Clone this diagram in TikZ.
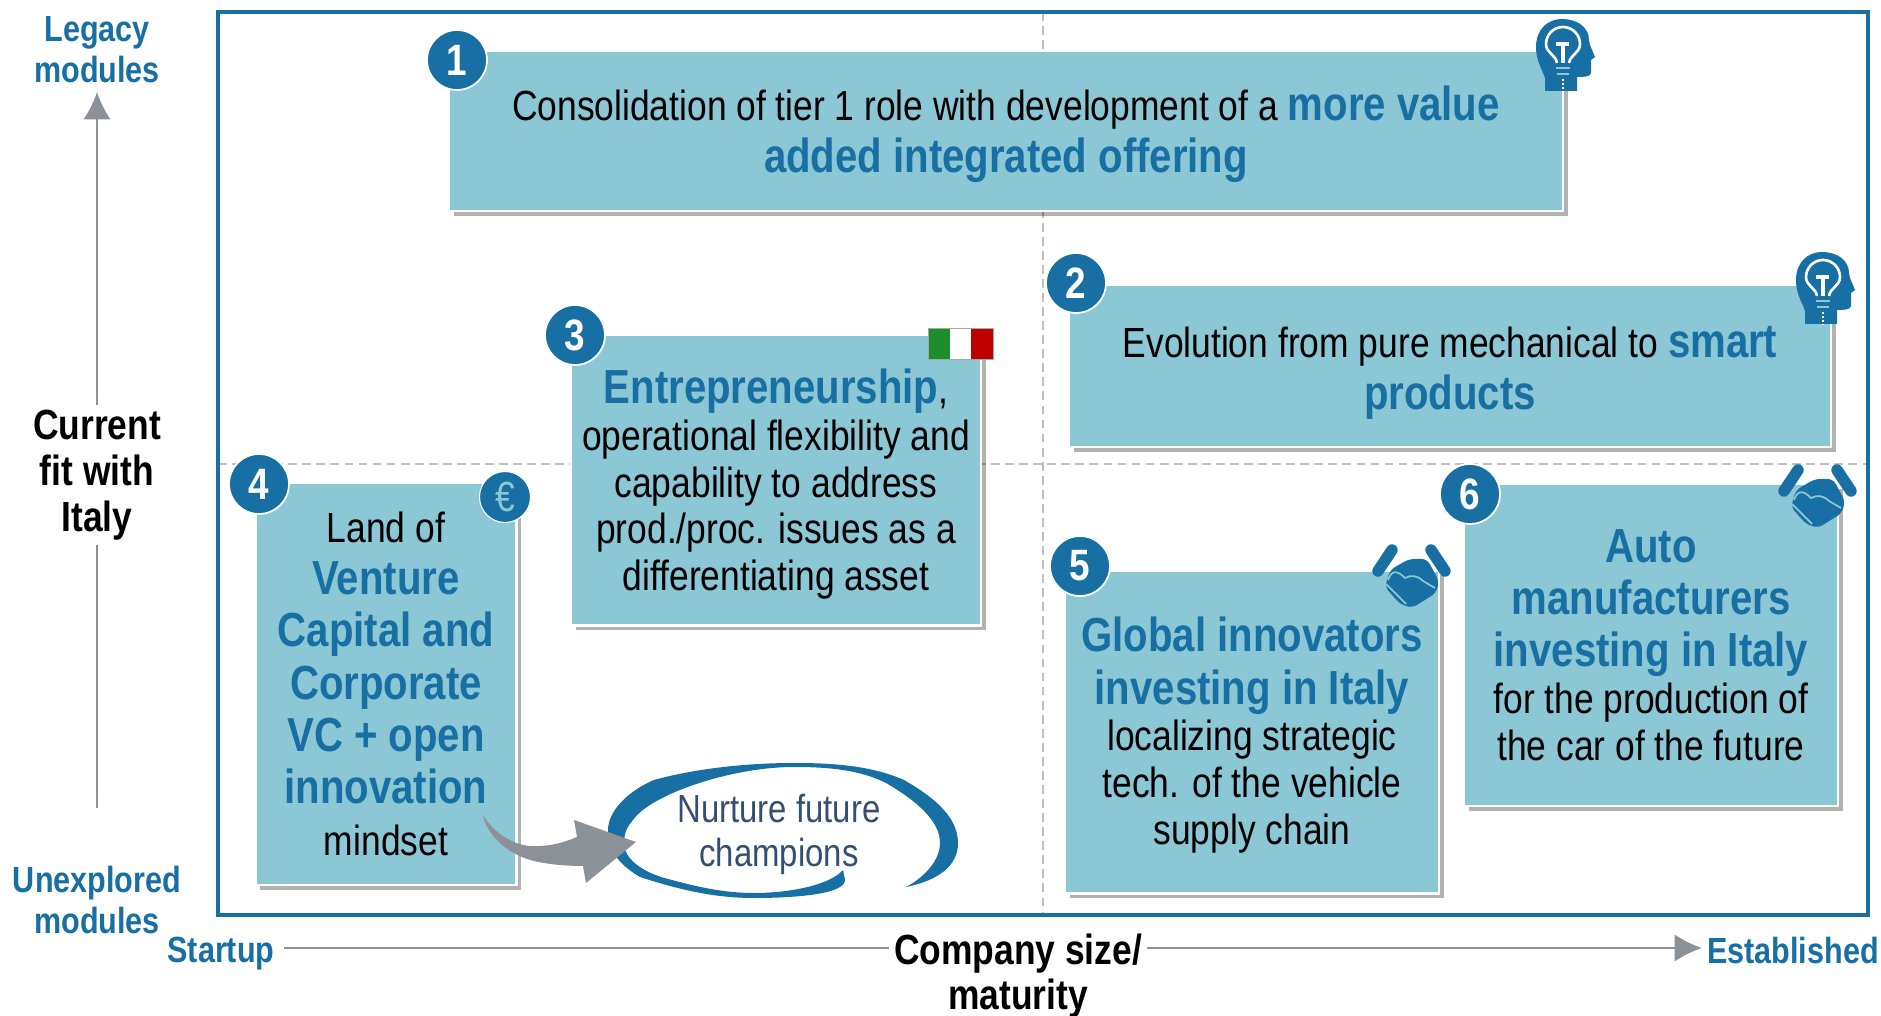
\documentclass[tikz,border=0pt]{standalone}
\usepackage{fontspec}
\setmainfont{Liberation Sans}[FakeStretch = 0.84]
\usetikzlibrary{arrows.meta, shadows}

\definecolor{teal}{HTML}{8CC7D5}
\definecolor{deepblue}{HTML}{176FA3}
\definecolor{arrowgray}{HTML}{8C9198}
\definecolor{slateblue}{HTML}{354F72}

\newcommand{\hl}[1]{{\bfseries\color{deepblue}\fontsize{27.2}{26.7}\selectfont #1}}
\newcommand{\pad}[1]{\rule{0pt}{#1pt}}

\tikzset{
	box/.style = {fill = teal, draw = white, line width = 1.2pt, inner sep = 0pt, align = center, font = \fontsize{24}{26.7}\selectfont, drop shadow = {shadow xshift = 2.8pt, shadow yshift = -2.8pt, fill = black, opacity = 0.3}},
	numdot/.style = {circle, fill = deepblue, draw = white, line width = 1pt, inner sep = 0pt, minimum size = 1.2cm, text = white, font = \fontsize{25}{26}\selectfont\bfseries},
	axislabel/.style = {align = center, text = deepblue, font = \fontsize{20.7}{23.5}\selectfont\bfseries},
	axistitle/.style = {align = center, fill = white, inner sep = 3pt, font = \fontsize{24}{26}\selectfont\bfseries},
	axisline/.style = {->, draw = arrowgray, line width = 1.2pt},
	midline/.style = {gray!50, line width = 1pt, dash pattern = on 5pt off 3pt},
	headicon/.pic = {
		\fill [deepblue] (-17, 36) -- (-17, 23) .. controls (-20, 14) and (-26, 6) .. (-26, -8) .. controls (-26, -26) and (-14, -36) .. (0, -36) .. controls (16, -36) and (27, -27) .. (27, -15) -- (28, -10) -- (33, 2) -- (29, 5) -- (29, 18) .. controls (29, 22) and (20, 22) .. (15, 22) -- (15, 36) -- cycle;
		\draw [white, line width = 1.5pt] (-5, 8) .. controls (-6, 0) and (-16, -2) .. (-16, -11) arc [start angle = 180, end angle = 360, radius = 17] .. controls (18, -2) and (8, 0) .. (7, 8);
		\draw [white, line width = 1.8pt] (-6, -11) -- (7, -11) (1, -11) -- (1, 8);
		\draw [teal, line width = 1.4pt] (-6, 13) -- (8, 13) (-5, 19) -- (7, 19);
		\draw [white, line width = 1.2pt, densely dotted] (1, 24) -- (1, 36);
	},
	shakeicon/.pic = {
		\draw [deepblue, line width = 6.5pt, line cap = round] (-33, -12) -- (-19, -33) (20, -33) -- (34, -12);
		\fill [deepblue, rounded corners = 3pt] (-21, -13) -- (-2, -24) -- (16, -24) -- (28, -2) -- (25, 10) -- (1, 25) -- (-11, 21) -- (-26, 4) -- cycle;
		\draw [teal, line width = 1pt] (-23, -3) .. controls (-19, -15) and (-12, -11) .. (-6, -5) .. controls (0, -8) and (6, -8) .. (12, -2) -- (24, 5);
		\draw [teal, line width = 1pt] (-25, 1) -- (-5, 21);
	}
}

\begin{document}

\begin{tikzpicture}[x = 0.02cm, y = -0.02cm, > = {Latex[length = 0.55cm, width = 0.55cm]}]

	\useasboundingbox (0, 0) rectangle (1881, 1016);
	
	% Frame and quadrants
	
	\coordinate (midtop) at (1043, 12);
	\coordinate (midbottom) at (1043, 915);
	\coordinate (midleft) at (218, 464);
	\coordinate (midright) at (1868, 464);
	
	\draw [midline] (midtop) -- (midbottom);
	\draw [midline] (midleft) -- (midright);
	\draw [deepblue, line width = 2pt] (218, 12) rectangle (1868, 915);
	
	% Axes
	
	\coordinate (ybottom) at (97, 808);
	\coordinate (ytop) at (97, 92);
	\coordinate (xleft) at (284, 948);
	\coordinate (xright) at (1702, 948);
	
	\draw [axisline] (ybottom) -- (ytop);
	\draw [axisline] (xleft) -- (xright);
	
	\node [axistitle] (fit) at (97, 475) {Current\\fit with\\Italy};
	\node [axistitle, anchor = north] (size) at (1018, 928) {Company size/\\maturity};
	\node [axislabel] (legacy) at (97, 50) {Legacy\\modules};
	\node [axislabel] (unexplored) at (97, 900) {Unexplored\\modules};
	\node [axislabel] (startup) at (221, 954) {Startup};
	\node [axislabel] (established) at (1793, 950) {Established};
	
	% Boxes
	
	\node [box, minimum width = 22.3cm, minimum height = 3.2cm] (box1) at (1006, 131) {\pad{23.4}Consolidation of tier 1 role with development of a \hl{more value}\\[3pt]\hl{added integrated offering}};
	\node [box, minimum width = 15.26cm, minimum height = 3.24cm] (box2) at (1450, 366) {\pad{25.6}Evolution from pure mechanical to \hl{smart}\\[3pt]\hl{products}};
	\node [box, minimum width = 8.2cm, minimum height = 5.82cm] (box3) at (776, 480) {\pad{24.4}\hl{Entrepreneurship},\\operational flexibility and\\capability to address\\prod./proc. issues as a\\differentiating asset};
	\node [box, minimum width = 5.22cm, minimum height = 8.04cm] (box4) at (386, 684) {Land of\\[3pt]\hl{Venture}\\[3pt]\hl{Capital and}\\[3pt]\hl{Corporate}\\[3pt]\hl{VC + open}\\[3pt]\hl{innovation}\\[3pt]mindset};
	\node [box, minimum width = 7.48cm, minimum height = 6.46cm] (box5) at (1252, 732) {\pad{23.6}\hl{Global innovators}\\[3pt]\hl{investing in Italy}\\localizing strategic\\tech. of the vehicle\\supply chain};
	\node [box, minimum width = 7.48cm, minimum height = 6.44cm] (box6) at (1651, 645) {\hl{Auto}\\[3pt]\hl{manufacturers}\\[3pt]\hl{investing in Italy}\\for the production of\\the car of the future};
	
	% Numbers
	
	\foreach \n/\x/\y in {1/457/60, 2/1076/283, 3/575/335, 4/259/484, 5/1080/566, 6/1470/494}
		\node [numdot] (dot\n) at (\x, \y) {\n};
	
	% Icons
	
	\foreach \x/\y in {1562/55, 1822/288}
		\pic at (\x, \y) {headicon};
	
	\foreach \x/\y in {1411/583, 1817/503}
		\pic at (\x, \y) {shakeicon};
	
	\fill [green!50!black!80!teal] (928, 328) rectangle (950, 359);
	\fill [white] (950, 328) rectangle (971, 359);
	\fill [red!75!black] (971, 328) rectangle (993, 359);
	\draw [gray!70, line width = 0.5pt] (928, 328) rectangle (993, 359);
	
	\node [circle, fill = deepblue, draw = white, line width = 0.6pt, inner sep = 0pt, minimum size = 1.02cm, text = teal, font = \fontsize{24}{26}\selectfont] (euro) at (505, 497) {€};
	
	% Nurture swoosh and arrow
	
	\fill [deepblue] (906, 887) .. controls (940, 880) and (958, 865) .. (958, 843) .. controls (958, 815) and (930, 795) .. (904, 780) .. controls (870, 765) and (830, 763) .. (794, 763) .. controls (740, 763) and (690, 770) .. (654, 780) .. controls (630, 790) and (608, 810) .. (608, 830) .. controls (608, 855) and (625, 868) .. (640, 877) .. controls (680, 890) and (715, 898) .. (754, 898) .. controls (790, 898) and (845, 895) .. (845, 880) -- (843, 870) .. controls (830, 885) and (790, 893) .. (754, 893) .. controls (720, 893) and (690, 885) .. (661, 877) .. controls (640, 870) and (624, 858) .. (624, 843) .. controls (624, 832) and (628, 826) .. (633, 820) .. controls (650, 795) and (730, 767) .. (794, 767) .. controls (830, 767) and (860, 770) .. (886, 783) .. controls (915, 800) and (940, 820) .. (940, 843) .. controls (940, 860) and (925, 877) .. (906, 887) -- cycle;
	
	\node [text = slateblue, align = center, font = \fontsize{22.3}{25}\selectfont] (nurture) at (779, 834) {Nurture future\\champions};
	
	\fill [arrowgray] (483, 815) .. controls (495, 835) and (515, 845) .. (530, 846) .. controls (550, 847) and (565, 842) .. (577, 837) -- (574, 820) -- (636, 842) -- (586, 883) -- (583, 866) .. controls (560, 866) and (535, 863) .. (522, 857) .. controls (505, 850) and (487, 835) .. (483, 815) -- cycle;
	
\end{tikzpicture}

\end{document}
